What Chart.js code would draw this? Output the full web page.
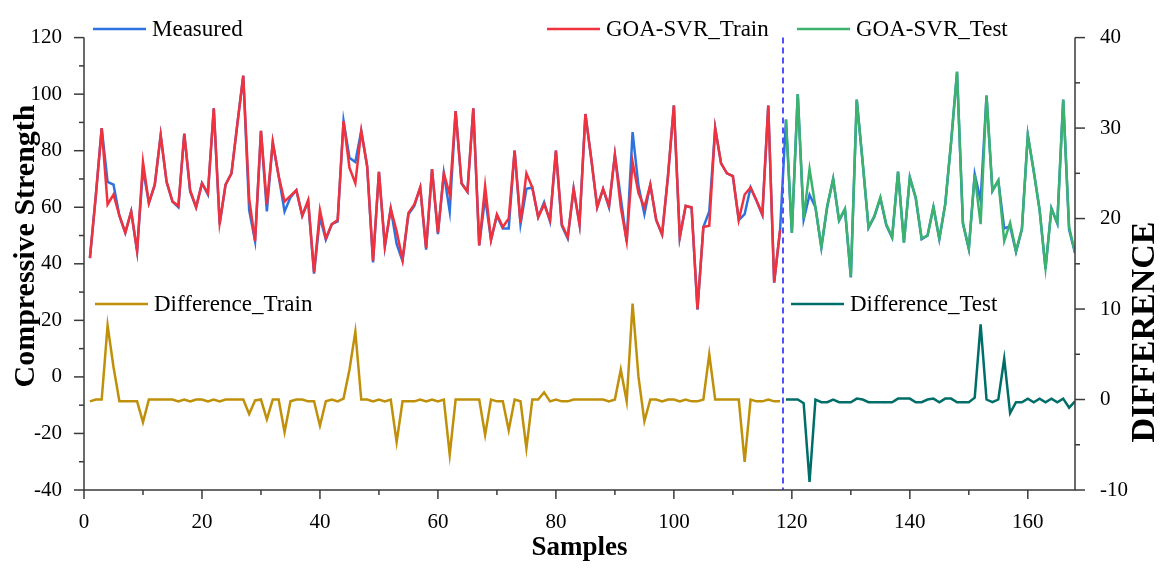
<!DOCTYPE html>
<html>
<head>
<meta charset="utf-8">
<script src="https://cdn.jsdelivr.net/npm/chart.js@4.4.1/dist/chart.umd.min.js"></script>
<style>
  html, body { margin: 0; padding: 0; background: #fff; }
  #wrap { width: 1161px; height: 568px; }
</style>
</head>
<body>
<div id="wrap"><canvas id="chart" width="1161" height="568"></canvas></div>
<script>
// sample numbers: train runs 1..118, test runs 119..168
const trainStart = 1;
const testStart = 119;
const splitAt = 118.5;

const measured = [
  42, 64, 88, 69, 68, 57, 51, 58.5, 44.5, 73.5, 61.5, 68, 85.5, 69, 62, 60, 86, 65.5, 60, 68.5,
  64.5, 95, 54, 68, 72, 89.5, 106.5, 59, 48, 87, 58.5, 83, 71, 58.5, 63.5, 66, 57, 62, 36.5, 56.5,
  48.5, 54, 55, 90.5, 77.5, 76, 87, 74.5, 40.5, 72.5, 46, 59.5, 47, 41, 57.5, 60.5, 67, 45, 73.5, 50.5,
  72, 58.5, 94, 68.5, 65.5, 95, 46.5, 63.5, 48.5, 57, 52.5, 52.5, 80, 54, 66.5, 67, 56.5, 61.8, 55, 80,
  53.5, 49, 66.5, 54, 93, 77, 60, 66.5, 60, 78.5, 63.3, 47.8, 86.6, 67.5, 57.6, 68, 55.5, 50.3, 71, 96,
  49.3, 60.5, 59.8, 23.8, 53, 58.5, 88, 75.5, 72, 71, 55.5, 57.6, 67, 62.3, 57.3, 96, 33.3, 51.8,
  91, 51, 100, 55.6, 64.4, 60, 45.7, 60.2, 70, 55.2, 59.2, 35.2, 98.1, 76, 52.7, 56.7, 63.2, 53.7, 49.2, 72.6,
  47.6, 70.6, 63.2, 48.7, 50, 60.1, 48.7, 61.1, 83.1, 107.7, 54.2, 45.2, 71.7, 62.4, 99.5, 65.7, 69.5, 52.5, 53.3, 44.2,
  52.2, 85.6, 72.7, 59.1, 38.2, 59.6, 54.2, 98.1, 52.1, 43.8
];

const goaTrain = [
  42, 64, 88, 61, 64.5, 57, 51, 58.5, 44.5, 76, 61.5, 68, 85.5, 69, 62, 60.5, 86, 66, 60, 68.5,
  65, 95, 54.5, 68, 72, 89.5, 106.5, 63, 48, 87, 61, 83, 71, 62, 64, 66, 57, 62.5, 37, 59,
  49, 54, 55.5, 90.5, 74, 68.5, 87, 74.5, 41, 72.5, 46.5, 59.5, 51.5, 41.5, 58, 61, 67, 45.5, 73.5, 51,
  72, 64.5, 94, 68.5, 65.5, 95, 46.5, 67.5, 48.5, 57.5, 53, 56, 80, 54.5, 72, 67, 56.5, 61, 55.5, 80,
  54, 49.5, 66.5, 54, 93, 77, 60, 66.5, 60.5, 78.5, 60, 48, 76, 65, 60, 68, 55.5, 50.5, 71, 96,
  49.5, 60.5, 60, 24, 53, 53.5, 88, 75.5, 72, 71, 55.5, 64.5, 67, 62.5, 57.5, 96, 33.5, 52
];

const goaTest = [
  91, 51, 100, 56, 73.5, 60, 46, 60.5, 70, 55.5, 59.5, 35.5, 98, 76, 53, 57, 63.5, 54, 49.5, 72.5,
  47.5, 70.5, 63.5, 49, 50, 60, 49, 61, 83, 108, 54.5, 45.5, 71.5, 54, 99.5, 66, 69.5, 48, 54.5, 44.5,
  52.5, 85.5, 73, 59, 38.5, 59.5, 54.5, 98, 53, 44
];

const diffTrain = [
  -0.2, 0, 0, 8.2, 3.6, -0.2, -0.2, -0.2, -0.2, -2.5, 0, 0, 0, 0, 0, -0.2, 0, -0.2, 0, 0,
  -0.2, 0, -0.2, 0, 0, 0, 0, -1.6, -0.1, 0, -2.2, 0, 0, -3.6, -0.2, 0, 0, -0.2, -0.2, -2.9,
  -0.2, 0, -0.2, 0.1, 3.3, 7.5, 0, 0, -0.2, 0, -0.2, 0, -4.7, -0.2, -0.2, -0.2, 0, -0.2, 0, -0.2,
  0, -6.1, 0, 0, 0, 0, 0, -3.9, 0, -0.2, -0.2, -3.4, 0, -0.2, -5.4, 0, 0, 0.8, -0.2, 0,
  -0.2, -0.2, 0, 0, 0, 0, 0, 0, -0.2, 0, 3.3, -0.2, 10.6, 2.5, -2.4, 0, 0, -0.2, 0, 0,
  -0.2, 0, -0.2, -0.2, 0, 5, 0, 0, 0, 0, 0, -6.9, 0, -0.2, -0.2, 0, -0.2, -0.2
];

const diffTest = [
  0, 0, 0, -0.4, -9.1, 0, -0.3, -0.3, 0, -0.3, -0.3, -0.3, 0.1, 0, -0.3, -0.3, -0.3, -0.3, -0.3, 0.1,
  0.1, 0.1, -0.3, -0.3, 0, 0.1, -0.3, 0.1, 0.1, -0.3, -0.3, -0.3, 0.2, 8.3, 0, -0.3, 0, 4.5, -1.5, -0.3,
  -0.3, 0.1, -0.3, 0.1, -0.3, 0.1, -0.3, 0.1, -0.9, -0.2
];

const seriesNames = ['Measured', 'GOA-SVR_Train', 'GOA-SVR_Test', 'Difference_Train', 'Difference_Test'];
const seriesColors = ['#2d72de', '#f0323e', '#3bb36e', '#c0900a', '#006e68'];

function toPoints(values, start) {
    return values.map((v, i) => ({ x: start + i, y: v }));
}

const serif = "'Liberation Serif', 'Times New Roman', serif";
const axisColor = '#3a3a3a';

// ticks, axis lines, split line, legend and titles drawn by hand
const decorPlugin = {
    id: 'decor',
    afterDatasetsDraw(chart) {
        const { ctx, chartArea: a, scales } = chart;
        const x = scales.x;
        ctx.save();
        ctx.strokeStyle = '#5050ff';
        ctx.lineWidth = 2;
        ctx.setLineDash([6, 4]);
        const sx = x.getPixelForValue(splitAt);
        ctx.beginPath();
        ctx.moveTo(sx, a.top);
        ctx.lineTo(sx, a.bottom);
        ctx.stroke();
        ctx.restore();
    },
    afterDraw(chart) {
        const { ctx, chartArea: a, scales } = chart;
        ctx.save();
        ctx.strokeStyle = axisColor;
        ctx.lineWidth = 1.5;
        ctx.beginPath();
        ctx.moveTo(a.left, a.top);
        ctx.lineTo(a.left, a.bottom);
        ctx.lineTo(a.right, a.bottom);
        ctx.lineTo(a.right, a.top);
        ctx.stroke();

        // x ticks
        for (let v = 0; v <= 160; v += 10) {
            const p = scales.x.getPixelForValue(v);
            const len = v % 20 === 0 ? 9 : 5;
            ctx.beginPath();
            ctx.moveTo(p, a.bottom);
            ctx.lineTo(p, a.bottom + len);
            ctx.stroke();
        }
        // left ticks
        for (let v = -40; v <= 120; v += 10) {
            const p = scales.y.getPixelForValue(v);
            const len = v % 20 === 0 ? 10 : 5;
            ctx.beginPath();
            ctx.moveTo(a.left, p);
            ctx.lineTo(a.left - len, p);
            ctx.stroke();
        }
        // right ticks
        for (let v = -10; v <= 40; v += 5) {
            const p = scales.y2.getPixelForValue(v);
            const len = v % 10 === 0 ? 10 : 5;
            ctx.beginPath();
            ctx.moveTo(a.right, p);
            ctx.lineTo(a.right + len, p);
            ctx.stroke();
        }

        // legend entries
        const legendSpots = [
            [93, 29], [547, 29], [797, 29], [95, 304], [791, 304]
        ];
        ctx.font = '23px ' + serif;
        ctx.fillStyle = '#000';
        ctx.textBaseline = 'middle';
        ctx.textAlign = 'left';
        ctx.lineWidth = 2.5;
        seriesNames.forEach((name, i) => {
            const [lx, ly] = legendSpots[i];
            ctx.strokeStyle = seriesColors[i];
            ctx.beginPath();
            ctx.moveTo(lx, ly);
            ctx.lineTo(lx + 53, ly);
            ctx.stroke();
            ctx.fillText(name, lx + 59, ly + 1);
        });

        // axis titles
        ctx.font = 'bold 27px ' + serif;
        ctx.textAlign = 'center';
        ctx.fillText('Samples', (a.left + a.right) / 2, 548);
        ctx.save();
        ctx.font = 'bold 30px ' + serif;
        ctx.translate(26, 246);
        ctx.rotate(-Math.PI / 2);
        ctx.fillText('Compressive Strength', 0, 0);
        ctx.restore();
        ctx.save();
        ctx.font = 'bold 34px ' + serif;
        ctx.translate(1145, 332);
        ctx.rotate(-Math.PI / 2);
        ctx.fillText('DIFFERENCE', 0, 0);
        ctx.restore();
        ctx.restore();
    }
};

const lineStyle = { borderWidth: 2.5, pointRadius: 0, tension: 0, fill: false };

const ctx = document.getElementById('chart').getContext('2d');
const chart = new Chart(ctx, {
    type: 'line',
    data: {
        datasets: [
            { label: seriesNames[1], data: toPoints(goaTrain, trainStart), borderColor: seriesColors[1], yAxisID: 'y', order: 1, ...lineStyle },
            { label: seriesNames[2], data: toPoints(goaTest, testStart), borderColor: seriesColors[2], yAxisID: 'y', order: 1, ...lineStyle },
            { label: seriesNames[0], data: toPoints(measured, trainStart), borderColor: seriesColors[0], yAxisID: 'y', order: 2, ...lineStyle },
            { label: seriesNames[3], data: toPoints(diffTrain, trainStart), borderColor: seriesColors[3], yAxisID: 'y2', order: 1, ...lineStyle },
            { label: seriesNames[4], data: toPoints(diffTest, testStart), borderColor: seriesColors[4], yAxisID: 'y2', order: 1, ...lineStyle }
        ]
    },
    options: {
        responsive: false,
        animation: false,
        devicePixelRatio: 1,
        layout: { padding: { top: 18, left: 0, right: 0, bottom: 0 } },
        plugins: {
            legend: { display: false },
            tooltip: { enabled: false }
        },
        scales: {
            x: {
                type: 'linear',
                min: 0,
                max: 168,
                grid: { display: false, drawTicks: false },
                border: { display: false },
                afterFit: s => { s.height = 78; },
                ticks: {
                    stepSize: 20,
                    includeBounds: false,
                    maxRotation: 0,
                    padding: 20,
                    color: '#000',
                    font: { family: serif, size: 21 }
                }
            },
            y: {
                position: 'left',
                min: -40,
                max: 120,
                grid: { display: false, drawTicks: false },
                border: { display: false },
                afterFit: s => { s.width = 84; },
                ticks: {
                    stepSize: 20,
                    padding: 22,
                    color: '#000',
                    font: { family: serif, size: 21 }
                }
            },
            y2: {
                position: 'right',
                min: -10,
                max: 40,
                grid: { display: false, drawTicks: false },
                border: { display: false },
                afterFit: s => { s.width = 86; },
                ticks: {
                    stepSize: 10,
                    padding: 25,
                    color: '#000',
                    font: { family: serif, size: 21 }
                }
            }
        }
    },
    plugins: [decorPlugin]
});
</script>
</body>
</html>
